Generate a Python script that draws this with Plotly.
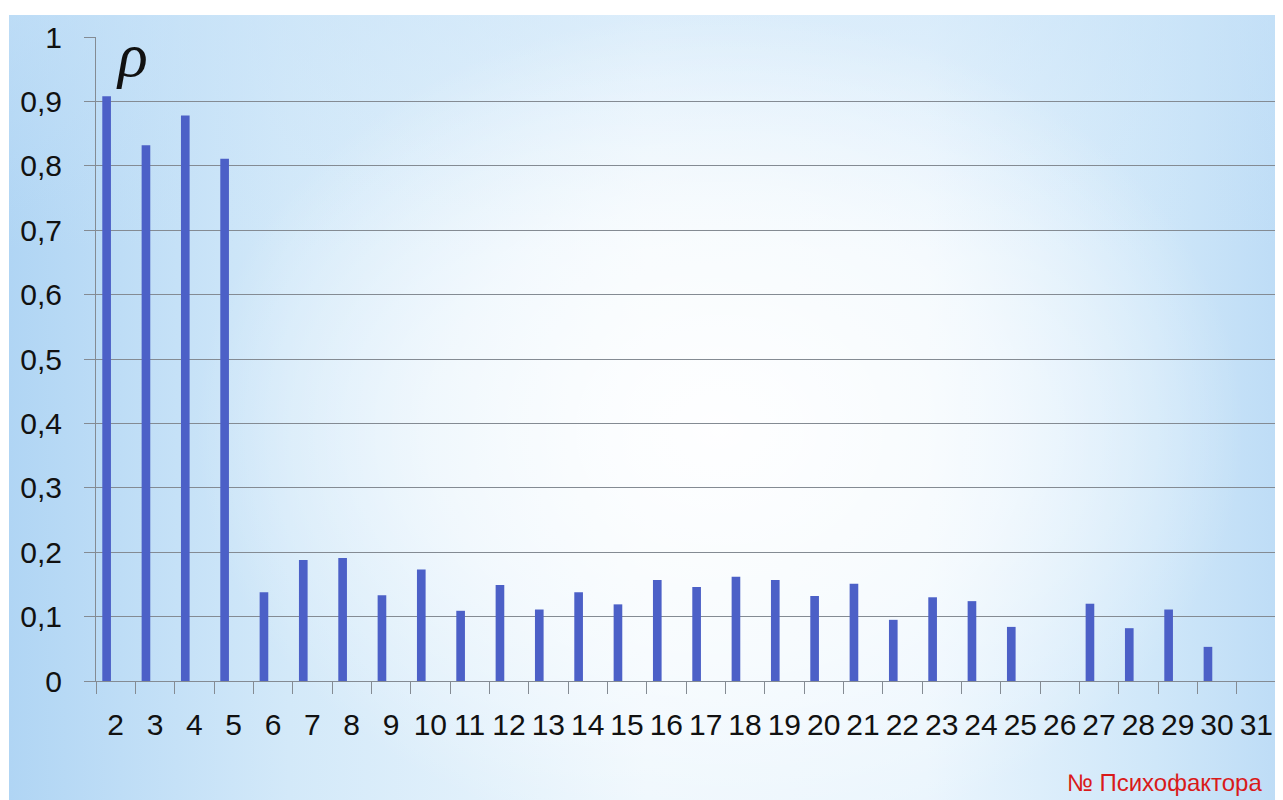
import base64
import plotly.graph_objects as go

# ---- data ----
categories = [str(i) for i in range(2, 32)]
rho = [0.908, 0.832, 0.878, 0.811, 0.138, 0.188, 0.191, 0.133, 0.173, 0.109,
       0.149, 0.111, 0.138, 0.119, 0.157, 0.146, 0.162, 0.157, 0.132, 0.151,
       0.095, 0.130, 0.124, 0.084, 0.0, 0.120, 0.082, 0.111, 0.053, 0.0]
y_tickvals = [0, 0.1, 0.2, 0.3, 0.4, 0.5, 0.6, 0.7, 0.8, 0.9, 1.0]
y_ticktext = ["0", "0,1", "0,2", "0,3", "0,4", "0,5", "0,6", "0,7", "0,8", "0,9", "1"]
y_symbol = "ρ"
x_title = "№ Психофактора"

# ---- geometry (pixels, page coords; page body has an 8px margin) ----
OFF = 8
PAGE_W, PAGE_H = 1283, 800
W, H = PAGE_W - OFF, PAGE_H - OFF
# plot area in page coordinates
X0, X1, Y0, Y1 = 96, 1276, 37, 681
L, R, T, B = X0 - OFF, PAGE_W - X1, Y0 - OFF, PAGE_H - Y1
PW, PH = W - L - R, H - T - B


def px(x):
    return (x - X0) / PW


def py(y):
    return (Y1 - y) / PH


# ---- background gradient (SVG, in figure coords) ----
svg = f'''<svg xmlns="http://www.w3.org/2000/svg" width="{W}" height="{H}" viewBox="0 0 {W} {H}">
<defs>
<linearGradient id="h" x1="0" y1="0" x2="1" y2="0">
<stop offset="0" stop-color="#b0d5f4"/>
<stop offset="0.22" stop-color="#d3e9f9"/>
<stop offset="0.5" stop-color="#eef7fd"/>
<stop offset="0.72" stop-color="#eaf5fd"/>
<stop offset="0.9" stop-color="#cfe7f9"/>
<stop offset="1" stop-color="#bddcf6"/>
</linearGradient>
<radialGradient id="r" cx="712" cy="422" r="420" gradientUnits="userSpaceOnUse" gradientTransform="translate(712 422) scale(1.25 1) translate(-712 -422)">
<stop offset="0" stop-color="#ffffff" stop-opacity="0.95"/>
<stop offset="0.55" stop-color="#ffffff" stop-opacity="0.55"/>
<stop offset="1" stop-color="#ffffff" stop-opacity="0"/>
</radialGradient>
<linearGradient id="v" x1="0" y1="0" x2="0" y2="1">
<stop offset="0" stop-color="#c9e3f8" stop-opacity="0.5"/>
<stop offset="0.3" stop-color="#c9e3f8" stop-opacity="0"/>
<stop offset="1" stop-color="#c9e3f8" stop-opacity="0"/>
</linearGradient>
</defs>
<rect x="0" y="0" width="{W}" height="{H}" fill="#ffffff"/>
<rect x="1" y="7" width="{W-1}" height="{H-7}" fill="url(#h)"/>
<rect x="1" y="7" width="{W-1}" height="{H-7}" fill="url(#v)"/>
<rect x="1" y="7" width="{W-1}" height="{H-7}" fill="url(#r)"/>
</svg>'''
bg_uri = "data:image/svg+xml;base64," + base64.b64encode(svg.encode("utf-8")).decode("ascii")

FONT = "Liberation Sans, Arial, sans-serif"
GRID = "#848b93"

fig = go.Figure()
fig.add_trace(go.Bar(
    x=categories, y=rho,
    marker=dict(color="#4c60c7", line=dict(width=0)),
    width=0.22, offset=-0.34,
    hoverinfo="x+y",
))

fig.update_layout(
    width=W, height=H,
    margin=dict(l=L, r=R, t=T, b=B, autoexpand=False),
    paper_bgcolor="rgba(0,0,0,0)",
    plot_bgcolor="rgba(0,0,0,0)",
    showlegend=False,
    font=dict(family=FONT, size=30, color="#111111"),
    images=[dict(
        source=bg_uri, xref="paper", yref="paper",
        x=-L / PW, y=1 + T / PH, sizex=W / PW, sizey=H / PH,
        xanchor="left", yanchor="top", sizing="stretch", layer="below",
    )],
    xaxis=dict(
        type="category",
        tickson="boundaries",
        ticks="outside", ticklen=12, tickcolor=GRID, tickwidth=1,
        showline=True, linecolor=GRID, linewidth=1,
        showgrid=False,
        tickangle=0,
        tickfont=dict(family=FONT, size=30, color="#111111"),
        ticklabelstandoff=17,
        fixedrange=True,
    ),
    yaxis=dict(
        range=[0, 1],
        tickvals=y_tickvals, ticktext=y_ticktext,
        ticks="outside", ticklen=11, tickcolor=GRID, tickwidth=1,
        showline=True, linecolor=GRID, linewidth=1,
        showgrid=True, gridcolor=GRID, gridwidth=1,
        zeroline=False,
        tickfont=dict(family=FONT, size=30, color="#111111"),
        ticklabelstandoff=16,
        fixedrange=True,
    ),
    annotations=[
        dict(text=y_symbol, xref="paper", yref="paper",
             x=px(132), y=py(55), xanchor="center", yanchor="middle",
             showarrow=False,
             font=dict(family="Liberation Serif, Times New Roman, serif", size=62,
                       color="#111111", style="italic")),
        dict(text=x_title, xref="paper", yref="paper",
             x=px(1264), y=py(783), xanchor="right", yanchor="middle",
             showarrow=False,
             font=dict(family=FONT, size=24, color="#d91a1a")),
    ],
)

fig.write_html("out.html", include_plotlyjs=True, config={"displayModeBar": False})
